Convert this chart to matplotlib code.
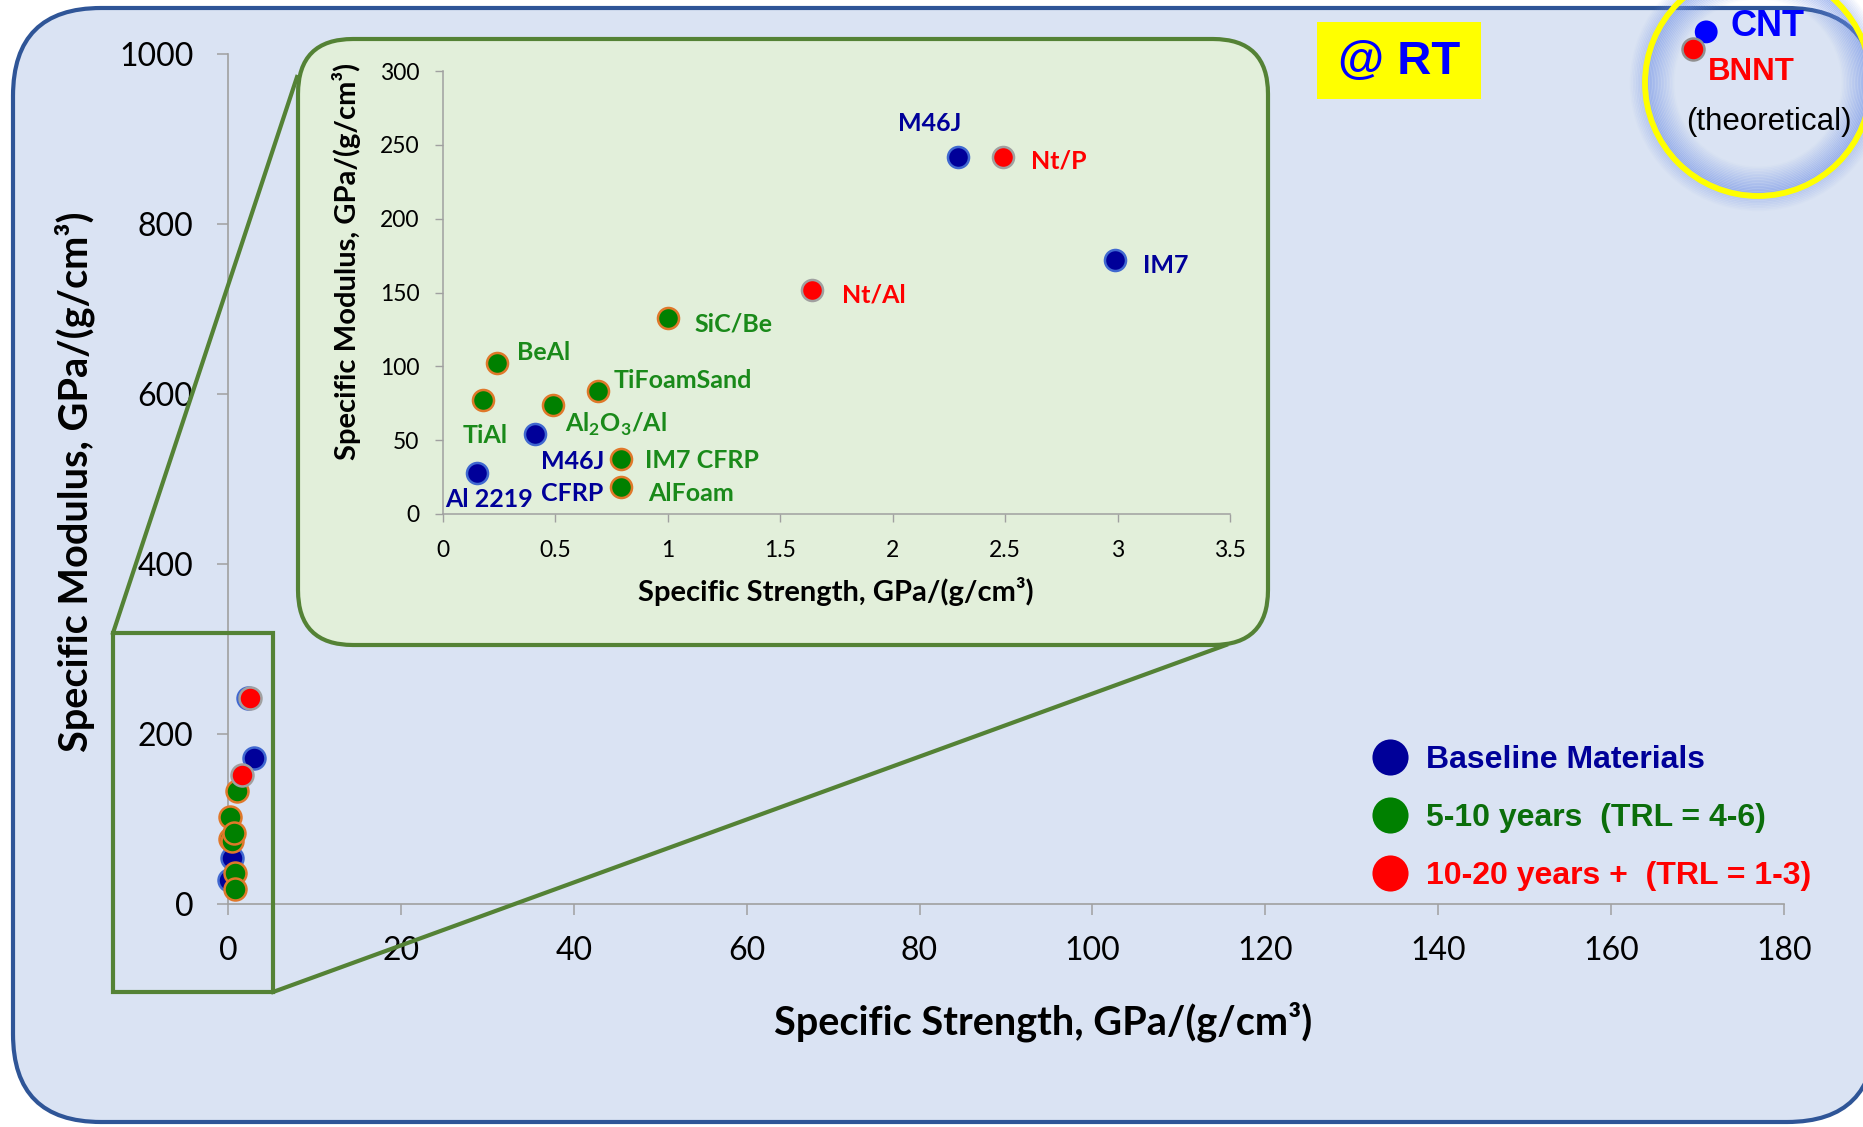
import matplotlib
matplotlib.use("Agg")
import matplotlib.pyplot as plt
from matplotlib.patches import FancyBboxPatch, Rectangle, Circle
from matplotlib.lines import Line2D
from matplotlib.transforms import Affine2D

# ---------------- data ----------------
material = ['Al 2219', 'M46J\nCFRP', 'TiAl', 'BeAl', r'Al$_\mathbf{2}$O$_\mathbf{3}$/Al',
            'TiFoamSand', 'IM7 CFRP', 'AlFoam', 'SiC/Be', 'Nt/Al', 'M46J', 'Nt/P', 'IM7']
strength = [0.15, 0.41, 0.18, 0.24, 0.49, 0.69, 0.79, 0.79, 1.00, 1.64, 2.29, 2.49, 2.99]
modulus = [28, 54, 77, 102, 74, 83, 37, 18, 133, 152, 242, 242, 172]
group = ['base', 'base', 'mid', 'mid', 'mid', 'mid', 'mid', 'mid', 'mid', 'far', 'base', 'far', 'base']

theory_names = ['CNT', 'BNNT']
theory_strength = [171.0, 169.5]
theory_modulus = [1026, 1006]

main_xticks = [0, 20, 40, 60, 80, 100, 120, 140, 160, 180]
main_yticks = [0, 200, 400, 600, 800, 1000]
inset_xticks = [0, 0.5, 1, 1.5, 2, 2.5, 3, 3.5]
inset_yticks = [0, 50, 100, 150, 200, 250, 300]

legend_labels = ['Baseline Materials', '5-10 years  (TRL = 4-6)', '10-20 years +  (TRL = 1-3)']

# ---------------- style ----------------
W, H, DPI = 1863, 1127, 100
plt.rcParams['font.family'] = ['Lato', 'DejaVu Sans']
plt.rcParams['mathtext.fontset'] = 'custom'
plt.rcParams['mathtext.rm'] = 'Lato'
plt.rcParams['mathtext.bf'] = 'Lato:bold'

fill = {'base': '#000099', 'mid': '#008000', 'far': '#FF0000'}
edge = {'base': '#4068D0', 'mid': '#E0782A', 'far': '#A0A0A0'}
txtc = {'base': '#000099', 'mid': '#1A8A1A', 'far': '#FF0000'}
# label offsets (pixels, right/up) relative to each point
offsets = [(12, -27), (37, -43), (2, -35), (47, 11), (63, -20), (85, 11), (81, -1),
           (70, -6), (66, -6), (62, -5), (-28, 33), (56, -4), (50, -5)]

AX_GRAY = '#A0A0A0'
GREEN_BORDER = '#548235'

fig = plt.figure(figsize=(W / DPI, H / DPI), dpi=DPI, facecolor='white')
PX = Affine2D().scale(1 / W, -1 / H).translate(0, 1) + fig.transFigure

# background rounded panel
bg = FancyBboxPatch((13, 8), 1875 - 13, 1122 - 8, boxstyle='round,pad=0,rounding_size=88',
                    transform=PX, fc='#DAE3F3', ec='#2F5597', lw=3.0, zorder=-10)
fig.add_artist(bg)

# ---------------- main axes ----------------
ax = fig.add_axes([228 / W, 1 - 904 / H, (1784 - 228) / W, (904 - 54) / H])
ax.patch.set_visible(False)
ax.set_xlim(0, 180)
ax.set_ylim(0, 1000)
ax.set_xticks(main_xticks)
ax.set_yticks(main_yticks)
for s in ['top', 'right']:
    ax.spines[s].set_visible(False)
for s in ['left', 'bottom']:
    ax.spines[s].set_color(AX_GRAY)
    ax.spines[s].set_linewidth(1.2)
ax.tick_params(axis='both', direction='out', length=8, width=1.1, color=AX_GRAY,
               labelsize=23, labelcolor='black')
ax.tick_params(axis='y', pad=17)
ax.tick_params(axis='x', pad=15)
ax.set_xlabel('Specific Strength, GPa/(g/cm³)', fontsize=28.5, fontweight='bold')
ax.set_ylabel('Specific Modulus, GPa/(g/cm³)', fontsize=28.5, fontweight='bold')
ax.xaxis.label.set_va('center')
ax.yaxis.label.set_va('center')
ax.xaxis.set_label_coords(0.524, -0.139)
ax.yaxis.set_label_coords(-0.0983, 0.4965)

for g in ['base', 'mid', 'far']:
    xs = [x for x, gg in zip(strength, group) if gg == g]
    ys = [y for y, gg in zip(modulus, group) if gg == g]
    ax.scatter(xs, ys, s=250, c=fill[g], edgecolors=edge[g], linewidths=1.8, zorder=3, clip_on=False)

ax.scatter(theory_strength[0], theory_modulus[0], s=270, c='#0000FF', edgecolors='none', zorder=4, clip_on=False)
ax.scatter(theory_strength[1], theory_modulus[1], s=250, c='#FF0000', edgecolors='#909090',
           linewidths=1.8, zorder=4, clip_on=False)

# ---------------- zoom decoration ----------------
fig.add_artist(Rectangle((113, 633), 273 - 113, 992 - 633, transform=PX, fill=False,
                         ec=GREEN_BORDER, lw=3.0, zorder=1))
fig.add_artist(Line2D([113, 297], [633, 77], transform=PX, color=GREEN_BORDER, lw=3.0, zorder=1))
fig.add_artist(Line2D([273, 1226], [992, 645], transform=PX, color=GREEN_BORDER, lw=3.0, zorder=1))
fig.add_artist(FancyBboxPatch((298, 39), 1268 - 298, 645 - 39, boxstyle='round,pad=0,rounding_size=55',
                              transform=PX, fc='#E2EFDA', ec=GREEN_BORDER, lw=3.0, zorder=1.5))

# ---------------- inset axes ----------------
ai = fig.add_axes([443 / W, 1 - 514 / H, (1230 - 443) / W, (514 - 71) / H], zorder=2)
ai.patch.set_visible(False)
ai.set_xlim(0, 3.5)
ai.set_ylim(0, 300)
ai.set_xticks(inset_xticks)
ai.set_xticklabels([f'{t:g}' for t in inset_xticks])
ai.set_yticks(inset_yticks)
for s in ['top', 'right']:
    ai.spines[s].set_visible(False)
for s in ['left', 'bottom']:
    ai.spines[s].set_color(AX_GRAY)
    ai.spines[s].set_linewidth(1.1)
ai.tick_params(axis='both', direction='out', length=6, width=1.0, color=AX_GRAY,
               labelsize=16.5, labelcolor='black')
ai.tick_params(axis='y', pad=11)
ai.tick_params(axis='x', pad=13)
ai.set_xlabel('Specific Strength, GPa/(g/cm³)', fontsize=21, fontweight='bold')
ai.set_ylabel('Specific Modulus, GPa/(g/cm³)', fontsize=21, fontweight='bold')
ai.xaxis.label.set_va('center')
ai.yaxis.label.set_va('center')
ai.xaxis.set_label_coords(0.4994, -0.176)
ai.yaxis.set_label_coords(-0.122, 0.569)

for g in ['base', 'mid', 'far']:
    xs = [x for x, gg in zip(strength, group) if gg == g]
    ys = [y for y, gg in zip(modulus, group) if gg == g]
    ai.scatter(xs, ys, s=230, c=fill[g], edgecolors=edge[g], linewidths=1.8, zorder=3, clip_on=False)

for name, x, y, g, (dx, dy) in zip(material, strength, modulus, group, offsets):
    ai.annotate(name, (x, y), xytext=(dx, dy), textcoords='offset pixels', ha='center', va='center',
                fontsize=18, fontweight='bold', color=txtc[g], linespacing=1.45)

# ---------------- @ RT box ----------------
fig.add_artist(Rectangle((1317, 22), 1481 - 1317, 99 - 22, transform=PX, fc='#FFFF00', ec='none', zorder=3))
fig.text(1399, 62, '@ RT', transform=PX, ha='center', va='center', fontsize=34, fontweight='bold',
         color='#0000FF', family='Liberation Sans', zorder=4)

# ---------------- theoretical circle ----------------
cx, cy, r = 1758, 83, 113
for k in range(18):
    fig.add_artist(Circle((cx, cy), r - 3 - k * 1.5, transform=PX, fill=False,
                          ec='#6E8FE6', lw=1.5, alpha=0.45 * (1 - k / 18), zorder=2.5))
for k in range(8):
    fig.add_artist(Circle((cx, cy), r + 3 + k * 1.6, transform=PX, fill=False,
                          ec='#6E8FE6', lw=1.4, alpha=0.25 * (1 - k / 8), zorder=2.5))
fig.add_artist(Circle((cx, cy), r, transform=PX, fill=False, ec='#FFFF00', lw=4.2, zorder=2.6))
fig.text(1730, 27, theory_names[0], transform=PX, ha='left', va='center', fontsize=26,
         fontweight='bold', color='#0000FF', family='Liberation Sans', zorder=4)
fig.text(1708, 72, theory_names[1], transform=PX, ha='left', va='center', fontsize=22.5,
         fontweight='bold', color='#FF0000', family='Liberation Sans', zorder=4)
fig.text(1686, 122, '(theoretical)', transform=PX, ha='left', va='center', fontsize=22.5,
         color='black', family='Liberation Sans', zorder=4)

# ---------------- legend ----------------
handles = [Line2D([], [], ls='none', marker='o', ms=26, mfc=fill[g], mec='none') for g in ['base', 'mid', 'far']]
leg = fig.legend(handles, legend_labels, loc='center left', bbox_to_anchor=(1374, 818),
                 bbox_transform=PX, frameon=False, borderpad=0, borderaxespad=0,
                 handlelength=1.0, handletextpad=0.63, labelspacing=0.88,
                 prop={'family': 'Liberation Sans', 'weight': 'bold', 'size': 23})
for t, g in zip(leg.get_texts(), ['base', 'mid', 'far']):
    t.set_color({'base': '#000099', 'mid': '#0B6E0B', 'far': '#FF0000'}[g])

fig.savefig('out.png', dpi=DPI, facecolor='white')
